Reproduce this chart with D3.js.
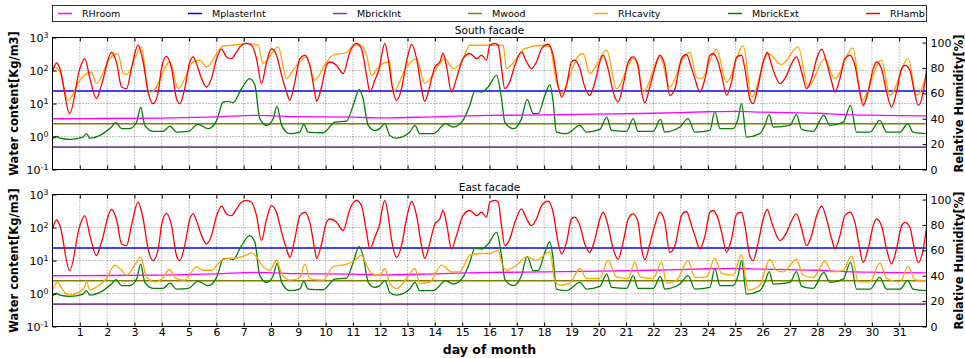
<!DOCTYPE html>
<html><head><meta charset="utf-8">
<script src="https://cdn.jsdelivr.net/npm/d3@7"></script>
<style>
body{margin:0;background:#fff;}
svg{display:block;font-family:"DejaVu Sans",sans-serif;}
</style></head><body>
<svg id="chart" width="965" height="358"></svg>
<script>
// ---- data: [day, value] ----
const rhAmb = [[0,77],[0.15,83.9],[0.27,79.5],[0.63,44.0],[1.00,79.5],[1.18,87.4],[1.37,71.6],[1.61,55.8],[1.79,66.3],[2.16,92.2],[2.34,84.7],[2.53,65.0],[2.71,63.7],[2.89,79.5],[3.13,97.9],[3.32,84.7],[3.50,61.0],[3.68,51.9],[3.87,61.0],[3.99,79.5],[4.17,89.2],[4.36,79.5],[4.54,55.8],[4.66,51.9],[4.84,63.7],[5.03,84.7],[5.15,88.7],[5.27,83.5],[5.46,71.6],[5.64,65.0],[5.82,71.6],[6.01,87.4],[6.19,94.8],[6.37,88.7],[6.55,87.4],[6.74,92.6],[6.92,97.9],[7.10,99.3],[7.29,97.9],[7.47,87.4],[7.65,67.7],[7.84,84.7],[8.02,95.3],[8.20,90.0],[8.39,74.2],[8.57,61.0],[8.69,54.5],[8.87,68.9],[9.06,87.4],[9.24,90.0],[9.42,82.1],[9.60,61.0],[9.67,53.7],[9.85,65.0],[10.03,82.1],[10.15,84.7],[10.40,82.1],[10.64,75.6],[10.89,92.6],[11.13,99.3],[11.31,95.3],[11.50,74.2],[11.62,61.0],[11.80,70.3],[11.99,82.1],[12.05,90.0],[12.17,99.3],[12.29,87.4],[12.41,68.9],[12.60,54.5],[12.78,63.7],[12.96,84.7],[13.15,98.5],[13.33,87.4],[13.51,63.7],[13.63,53.7],[13.82,66.3],[14.00,80.8],[14.18,84.7],[14.30,91.4],[14.43,80.8],[14.61,61.0],[14.79,71.6],[15.03,87.4],[15.28,91.4],[15.53,87.4],[15.71,90.0],[15.89,86.1],[16.01,97.9],[16.20,99.3],[16.32,97.9],[16.44,79.5],[16.56,63.7],[16.74,68.9],[16.93,82.1],[17.17,92.6],[17.36,84.7],[17.54,79.5],[17.72,84.7],[17.91,95.3],[18.15,98.7],[18.33,90.0],[18.51,66.3],[18.64,57.1],[18.82,66.3],[19.00,84.7],[19.12,86.1],[19.31,79.5],[19.49,65.0],[19.67,58.4],[19.86,68.9],[20.04,84.7],[20.16,90.0],[20.34,79.5],[20.53,61.0],[20.71,53.1],[20.89,66.3],[21.08,84.7],[21.26,88.7],[21.44,82.1],[21.57,61.0],[21.69,52.6],[21.87,65.0],[22.05,79.5],[22.24,90.0],[22.42,82.1],[22.60,58.4],[22.79,63.7],[23.03,87.4],[23.21,90.6],[23.40,79.5],[23.52,71.6],[23.70,61.0],[23.89,71.6],[24.07,90.0],[24.19,91.4],[24.37,84.7],[24.50,74.2],[24.68,58.4],[24.86,68.9],[25.05,88.7],[25.23,90.0],[25.35,79.5],[25.53,55.8],[25.65,51.9],[25.84,66.3],[26.02,84.7],[26.17,92.2],[26.33,82.1],[26.51,71.6],[26.63,67.7],[26.88,74.2],[27.06,83.5],[27.24,88.7],[27.43,76.8],[27.61,63.7],[27.79,71.6],[27.98,87.4],[28.16,94.8],[28.34,84.7],[28.53,68.9],[28.65,61.0],[28.83,71.6],[29.01,87.4],[29.20,90.0],[29.38,82.1],[29.56,61.0],[29.68,50.5],[29.86,61.0],[30.05,79.5],[30.17,84.7],[30.35,79.5],[30.54,61.0],[30.72,49.2],[30.90,61.0],[31.09,79.5],[31.21,82.1],[31.39,78.2],[31.51,66.3],[31.70,50.5],[31.88,61.0],[32.00,78.2]];

const rhCavitySouth = [[0,82.0],[0.27,76.8],[0.57,54.5],[1.00,70.3],[1.43,76.8],[1.61,67.7],[2.10,87.4],[2.40,91.4],[2.59,75.6],[2.71,74.8],[3.26,96.6],[3.50,62.4],[3.63,61.0],[4.30,84.7],[4.60,63.7],[5.15,84.7],[5.39,86.1],[5.64,80.8],[6.25,97.4],[6.61,97.9],[7.10,99.3],[7.53,97.9],[7.71,83.5],[8.26,96.6],[8.57,71.6],[8.81,78.2],[9.30,88.7],[9.60,70.3],[10.03,84.7],[10.27,90.0],[10.77,92.2],[11.01,97.9],[11.25,98.5],[11.50,90.0],[11.68,74.2],[11.98,82.1],[12.35,84.7],[12.47,61.0],[12.96,80.8],[13.33,87.4],[13.63,67.7],[14.18,83.5],[14.36,87.4],[14.67,79.5],[14.98,84.7],[15.28,97.9],[16.50,97.9],[16.62,79.5],[16.99,87.4],[17.29,95.3],[17.96,97.9],[18.21,96.6],[18.45,68.9],[18.64,59.8],[18.94,74.2],[19.19,87.4],[19.43,91.4],[19.67,75.6],[20.29,94.0],[20.65,63.7],[21.26,87.4],[21.38,84.7],[21.63,61.0],[22.24,88.7],[22.60,65.0],[23.09,87.4],[23.34,92.2],[23.58,72.9],[23.76,71.6],[24.31,94.8],[24.68,68.9],[25.29,97.4],[25.60,57.1],[26.20,91.4],[26.69,82.7],[27.30,96.6],[27.67,65.0],[28.28,87.4],[28.64,71.6],[29.31,95.8],[29.62,54.5],[30.35,86.1],[30.66,58.4],[31.33,87.4],[31.63,58.4],[32.00,74.2]];

const rhCavityEast = [[0,28.6],[0.18,35.0],[0.27,32.5],[0.39,28.6],[0.57,24.7],[1.00,27.3],[1.18,31.2],[1.24,35.9],[1.37,28.6],[1.61,31.2],[1.98,37.8],[2.28,48.3],[2.53,44.3],[2.71,40.4],[3.01,48.3],[3.23,54.8],[3.44,39.1],[3.75,35.1],[4.05,38.6],[4.27,44.9],[4.54,37.8],[4.84,36.5],[5.09,43.0],[5.27,47.0],[5.51,44.3],[5.82,44.3],[6.13,50.9],[6.37,53.6],[6.74,54.1],[7.10,56.2],[7.29,58.0],[7.47,54.8],[7.71,47.0],[7.96,44.3],[8.20,52.2],[8.39,41.8],[8.69,36.5],[9.06,38.6],[9.24,49.1],[9.42,37.8],[9.91,36.5],[10.27,47.0],[10.77,49.1],[11.07,52.2],[11.31,56.2],[11.50,48.3],[11.68,41.8],[11.98,40.4],[12.17,45.7],[12.35,33.9],[12.60,29.9],[12.96,37.8],[13.27,45.7],[13.45,33.9],[13.82,35.1],[14.24,48.3],[14.61,43.0],[14.91,43.0],[15.28,56.2],[15.65,57.5],[16.01,57.5],[16.32,60.1],[16.44,50.9],[16.62,44.3],[16.99,48.3],[17.36,54.8],[17.72,52.2],[18.21,58.8],[18.39,36.5],[18.58,32.5],[18.94,33.9],[19.31,45.7],[19.55,37.8],[20.04,37.8],[20.34,52.2],[20.65,39.1],[21.08,37.8],[21.32,50.9],[21.51,39.1],[21.99,37.8],[22.30,50.9],[22.48,33.9],[22.85,36.5],[23.27,51.7],[23.52,38.6],[23.95,39.1],[24.25,53.6],[24.50,41.8],[24.92,40.4],[25.23,56.7],[25.47,28.6],[25.90,32.5],[26.26,52.8],[26.51,44.3],[26.75,43.0],[27.24,52.8],[27.48,40.4],[27.85,38.6],[28.28,51.4],[28.53,43.0],[28.95,44.3],[29.26,55.6],[29.50,35.1],[29.93,35.1],[30.29,50.1],[30.54,37.8],[31.03,35.1],[31.33,47.5],[31.57,37.0],[32.00,35.9]];

const rhRoom = [[0,40.0],[2,40.2],[4,40.5],[6,41.5],[7.5,42.6],[9,41.6],[11,41.3],[12,40.6],[14,41.5],[16,42.6],[18,43.0],[20,43.6],[22,44.3],[24,45.5],[25,45.8],[26,45.2],[27,44.8],[28,44.3],[29,43.2],[30,42.8],[31,42.5],[32,42.2]];

const mBrickExt = [[0,0.85],[0.15,1.0],[0.27,0.89],[0.63,0.82],[1.12,0.96],[1.24,1.22],[1.37,0.89],[1.85,1.22],[2.16,1.93],[2.32,2.62],[2.53,1.73],[2.83,1.73],[3.08,2.74],[3.23,7.8],[3.38,2.17],[3.68,1.43],[4.05,1.43],[4.30,2.07],[4.54,1.36],[4.97,1.43],[5.33,2.33],[5.70,1.73],[6.01,3.08],[6.25,11.1],[6.43,11.6],[6.61,10.6],[6.92,28.3],[7.22,56.9],[7.41,35.6],[7.59,3.47],[7.84,2.17],[8.08,3.47],[8.22,8.2],[8.39,2.17],[8.69,1.22],[9.05,1.36],[9.20,2.33],[9.36,1.36],[9.91,1.30],[10.34,2.74],[10.77,2.93],[11.01,8.79],[11.23,26.4],[11.37,14.1],[11.56,2.17],[11.80,1.53],[11.98,1.73],[12.17,2.44],[12.35,1.08],[12.60,0.89],[13.08,1.36],[13.27,2.17],[13.45,1.22],[13.94,1.22],[14.40,2.44],[14.67,1.93],[15.03,3.08],[15.28,8.79],[15.46,23.4],[15.71,22.3],[15.95,31.6],[16.26,71.6],[16.44,14.1],[16.56,2.74],[16.87,1.73],[17.17,3.47],[17.38,13.4],[17.60,4.92],[17.78,4.92],[18.03,17.7],[18.21,37.4],[18.33,11.1],[18.45,1.36],[18.82,1.22],[19.31,2.17],[19.55,1.36],[20.04,1.64],[20.29,3.88],[20.47,1.53],[21.02,1.43],[21.26,3.47],[21.44,1.43],[21.99,1.43],[22.26,3.30],[22.42,1.36],[22.97,1.93],[23.27,3.47],[23.52,1.36],[24.07,1.53],[24.25,5.78],[24.44,1.73],[24.92,1.73],[25.10,3.47],[25.23,9.9],[25.41,0.96],[25.90,1.22],[26.08,2.17],[26.24,4.59],[26.39,1.93],[27.00,2.17],[27.24,4.59],[27.43,1.64],[27.85,1.43],[28.24,4.37],[28.46,2.17],[28.95,2.74],[29.22,8.79],[29.44,1.36],[29.93,1.36],[30.29,3.08],[30.54,1.36],[31.03,1.36],[31.31,2.44],[31.51,1.36],[32.00,1.22]];

const mPlasterInt = [[0,23.9],[32,23.9]];
const mBrickInt = [[0,0.476],[32,0.476]];
const mWood = [[0,2.44],[32,2.44]];

const dayTicks = [1,2,3,4,5,6,7,8,9,10,11,12,13,14,15,16,17,18,19,20,21,22,23,24,25,26,27,28,29,30,31];
const logTicks = [0.1,1,10,100,1000];
const rhTicks = [0,20,40,60,80,100];
const seriesNames = ["RHroom","MplasterInt","MbrickInt","Mwood","RHcavity","MbrickExt","RHamb"];
const seriesColors = ["#ff00ff","#0000ff","#7b3f9e","#808000","#ffa500","#008000","#ff0000"];
const panelTitles = ["South facade","East facade"];

// ---- drawing ----
const svg = d3.select("#chart");
const X0 = 52.5, X1 = 926.5;
const x = d3.scaleLinear().domain([0,32]).range([X0,X1]);

const panels = [
  {title: panelTitles[0], top: 37.5, bottom: 169.5, cavity: rhCavitySouth, labels: false},
  {title: panelTitles[1], top: 194.5, bottom: 326.5, cavity: rhCavityEast, labels: true}
];

const col = name => seriesColors[seriesNames.indexOf(name)];

function sup(sel){
  sel.each(function(d){
    const t = d3.select(this);
    const e = Math.round(Math.log10(d));
    t.text("10");
    t.append("tspan").attr("dy","-0.45em").attr("font-size","0.72em").text(e);
  });
}

panels.forEach((p,i)=>{
  const yL = d3.scaleLog().domain([0.1,1000]).range([p.bottom,p.top]);
  const yR = d3.scaleLinear().domain([0,104]).range([p.bottom,p.top]);
  const g = svg.append("g");
  const clipId = "clip"+i;
  svg.append("clipPath").attr("id",clipId).append("rect")
    .attr("x",X0).attr("y",p.top).attr("width",X1-X0).attr("height",p.bottom-p.top);

  // grid
  const grid = g.append("g").attr("stroke","#333").attr("stroke-width",0.6).attr("stroke-dasharray","1,2");
  grid.selectAll("line.v").data(dayTicks).join("line")
    .attr("x1",d=>x(d)).attr("x2",d=>x(d)).attr("y1",p.top).attr("y2",p.bottom);
  grid.selectAll("line.h").data(logTicks.slice(1,-1)).join("line")
    .attr("x1",X0).attr("x2",X1).attr("y1",d=>yL(d)).attr("y2",d=>yL(d));

  const plot = g.append("g").attr("clip-path",`url(#${clipId})`).attr("fill","none");
  const lineL = d3.line().x(d=>x(d[0])).y(d=>yL(d[1])).curve(d3.curveMonotoneX);
  const lineR = d3.line().x(d=>x(d[0])).y(d=>yR(d[1])).curve(d3.curveMonotoneX);

  plot.append("path").datum(mPlasterInt).attr("d",lineL).attr("stroke",col("MplasterInt")).attr("stroke-width",1.6);
  plot.append("path").datum(mBrickInt).attr("d",lineL).attr("stroke",col("MbrickInt")).attr("stroke-width",1.6);
  plot.append("path").datum(mWood).attr("d",lineL).attr("stroke",col("Mwood")).attr("stroke-width",1.4);
  plot.append("path").datum(mBrickExt).attr("d",lineL).attr("stroke",col("MbrickExt")).attr("stroke-width",1.3);
  plot.append("path").datum(rhRoom).attr("d",lineR).attr("stroke",col("RHroom")).attr("stroke-width",1.3);
  plot.append("path").datum(p.cavity).attr("d",lineR).attr("stroke",col("RHcavity")).attr("stroke-width",1.3);
  plot.append("path").datum(rhAmb).attr("d",lineR).attr("stroke",col("RHamb")).attr("stroke-width",1.3);

  // axes (ticks pointing inward)
  const axL = g.append("g").attr("transform",`translate(${X0},0)`)
    .call(d3.axisLeft(yL).tickValues(logTicks).tickSize(-4).tickPadding(4));
  axL.selectAll("text").call(sup);
  const axR = g.append("g").attr("transform",`translate(${X1},0)`)
    .call(d3.axisRight(yR).tickValues(rhTicks).tickSize(-4).tickPadding(4).tickFormat(d3.format("d")));
  const axB = g.append("g").attr("transform",`translate(0,${p.bottom})`)
    .call(d3.axisBottom(x).tickValues(dayTicks).tickSize(-4).tickPadding(2));
  if(!p.labels) axB.selectAll("text").remove();
  g.append("g").attr("transform",`translate(0,${p.top})`)
    .call(d3.axisTop(x).tickValues(dayTicks).tickSize(-4).tickFormat(""));
  g.selectAll(".domain").remove();
  g.selectAll(".tick text").attr("font-size",11).attr("fill","#000").attr("font-family","DejaVu Sans");
  g.selectAll(".tick line").attr("stroke","#000");

  g.append("rect").attr("x",X0).attr("y",p.top).attr("width",X1-X0).attr("height",p.bottom-p.top)
    .attr("fill","none").attr("stroke","#000").attr("stroke-width",1);

  g.append("text").attr("x",(X0+X1)/2).attr("y",p.top-4).attr("text-anchor","middle")
    .attr("font-size",10.5).text(p.title);

  const mid = (p.top+p.bottom)/2;
  g.append("text").attr("transform",`translate(18,${mid}) rotate(-90)`).attr("text-anchor","middle")
    .attr("font-size",11.5).attr("font-weight","bold").text("Water content[Kg/m3]");
  g.append("text").attr("transform",`translate(963,${mid}) rotate(-90)`).attr("text-anchor","middle")
    .attr("font-size",11.5).attr("font-weight","bold").text("Relative Humidity[%]");
});

svg.append("text").attr("x",(X0+X1)/2).attr("y",354).attr("text-anchor","middle")
  .attr("font-size",12.5).attr("font-weight","bold").text("day of month");

// legend
const lg = svg.append("g");
lg.append("rect").attr("x",52.5).attr("y",5.5).attr("width",874).attr("height",16)
  .attr("fill","#fff").attr("stroke","#000").attr("stroke-width",0.8);
const legendTextX = [82,212,357,492,618,752,890];
seriesNames.forEach((n,i)=>{
  const tx = legendTextX[i];
  lg.append("line").attr("x1",tx-24).attr("x2",tx-10).attr("y1",13.5).attr("y2",13.5)
    .attr("stroke",seriesColors[i]).attr("stroke-width",1.5);
  lg.append("text").attr("x",tx).attr("y",17).attr("font-size",9.5).text(n);
});
</script>
</body></html>
